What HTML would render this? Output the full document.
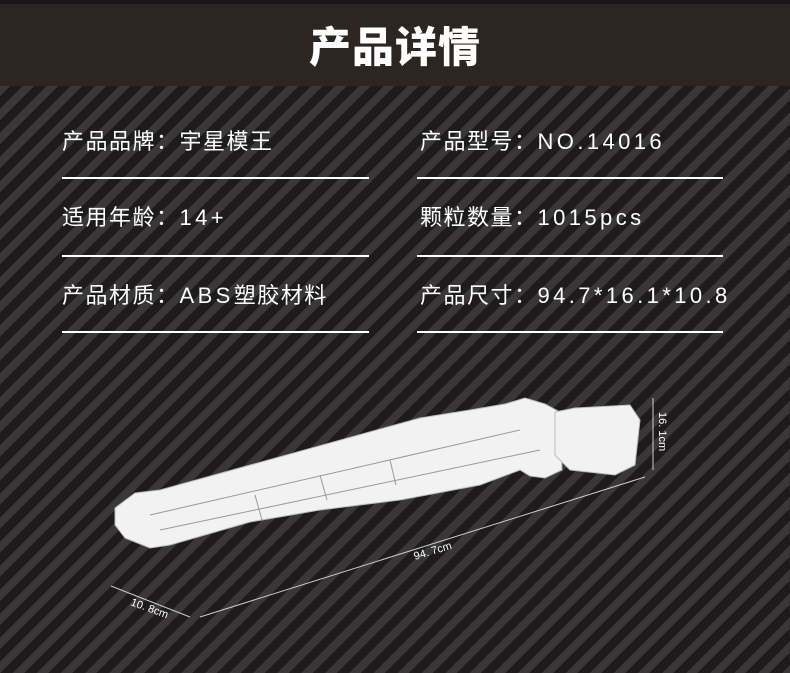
<!DOCTYPE html><html><head><meta charset="utf-8"><style>
body{margin:0;width:790px;height:673px;overflow:hidden;position:relative;font-family:"Liberation Sans","Noto Sans CJK SC",sans-serif;
background:repeating-linear-gradient(135deg,#1d1b1b 0 9px,#393737 9px 17px);}
.hd{position:absolute;left:0;top:0;width:790px;height:86px;background:#2c2522;border-top:4px solid #1a1615;box-sizing:border-box}
.t{position:absolute;left:0;width:790px;top:16px;text-align:center;color:#fff;font-size:42px;font-weight:900;letter-spacing:1px;font-family:"Noto Sans CJK SC",sans-serif;line-height:1.2}
.r{position:absolute;color:#fff;font-size:22px;letter-spacing:1.5px;font-family:"Liberation Sans","Noto Sans CJK SC",sans-serif;line-height:1}
.r span{letter-spacing:3.4px}
.l{position:absolute;height:2px;background:#fff}
</style></head><body>
<div class="hd"><div class="t">产品详情</div></div>
<div class="r" style="left:62px;top:131px">产品品牌：宇星模王</div>
<div class="r" style="left:420px;top:131px">产品型号：<span>NO.14016</span></div>
<div class="l" style="left:62px;top:177px;width:307px"></div>
<div class="l" style="left:417px;top:177px;width:306px"></div>
<div class="r" style="left:62px;top:207px">适用年龄：<span>14+</span></div>
<div class="r" style="left:420px;top:207px">颗粒数量：<span>1015pcs</span></div>
<div class="l" style="left:62px;top:255px;width:307px"></div>
<div class="l" style="left:417px;top:255px;width:306px"></div>
<div class="r" style="left:62px;top:285px">产品材质：<span>ABS</span>塑胶材料</div>
<div class="r" style="left:420px;top:285px">产品尺寸：<span>94.7*16.1*10.8</span></div>
<div class="l" style="left:62px;top:331px;width:307px"></div>
<div class="l" style="left:417px;top:331px;width:306px"></div>
<svg width="790" height="673" style="position:absolute;left:0;top:0">
<g fill="#f2f2f2" stroke="#bbb" stroke-width="1">
<polygon points="115,508 135,493 160,490 420,418 470,410 505,404 525,398 545,404 560,412 562,470 545,478 530,476 520,470 480,485 400,500 360,505 320,510 250,522 170,545 150,548 125,538 115,525"/>
<polygon points="555,412 575,408 630,405 640,420 635,465 615,475 570,470 555,455"/>
</g>
<g stroke="#999" stroke-width="1" fill="none">
<line x1="150" y1="515" x2="520" y2="430"/><line x1="160" y1="530" x2="540" y2="450"/>
<line x1="255" y1="495" x2="262" y2="520"/><line x1="320" y1="475" x2="327" y2="500"/><line x1="390" y1="460" x2="396" y2="485"/>
</g>
<g stroke="#ccc" stroke-width="1" fill="#ccc">
<line x1="200" y1="617" x2="645" y2="477"/>
<line x1="111" y1="586" x2="190" y2="617"/>
<line x1="653" y1="398" x2="653" y2="470"/>
</g>
<text x="0" y="0" fill="#fff" font-size="11" font-family="Liberation Sans" transform="translate(415,560) rotate(-17)">94. 7cm</text>
<text x="0" y="0" fill="#fff" font-size="11" font-family="Liberation Sans" transform="translate(130,605) rotate(20)">10. 8cm</text>
<text x="0" y="0" fill="#fff" font-size="11" font-family="Liberation Sans" transform="translate(659,412) rotate(90)">16. 1cm</text>
</svg>
</body></html>
